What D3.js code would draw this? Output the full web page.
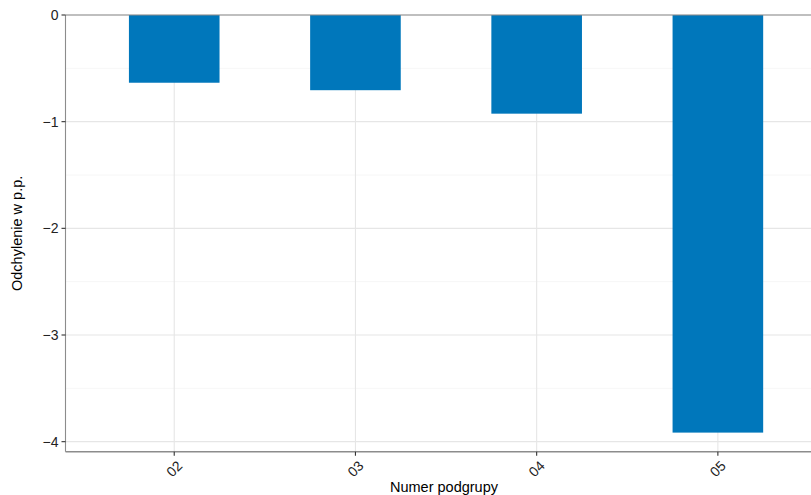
<!DOCTYPE html>
<html><head><meta charset="utf-8">
<script src="https://cdn.jsdelivr.net/npm/d3@7"></script>
<style>body{margin:0;background:#fff;}svg{display:block;font-family:"Liberation Sans",Arial,sans-serif;}</style>
</head><body>
<svg id="c" width="811" height="495"></svg>
<script>
const categories = ["02","03","04","05"];
const values = [-0.635, -0.705, -0.925, -3.915];
const yTicks = [0,-1,-2,-3,-4];
const yMinor = [-0.5,-1.5,-2.5,-3.5];
const xTitle = "Numer podgrupy";
const yTitle = "Odchylenie w p.p.";

(function(){
const svg = d3.select("#c");
const pL = 65.5, pR = 826.6, pT = 15, pB = 451.7;
const x = d3.scalePoint().domain(categories).range([pL, pR]).padding(0.6);
const bw = x.step()*0.5;
const y = d3.scaleLinear().domain([-4.094, 0]).range([pB, pT]);

const g = svg.append("g");
g.selectAll(".mg").data(yMinor).join("line")
 .attr("x1",pL).attr("x2",811).attr("y1",d=>y(d)).attr("y2",d=>y(d))
 .attr("stroke","#f4f4f4").attr("stroke-width",0.8);
g.selectAll(".yg").data(yTicks).join("line")
 .attr("x1",pL).attr("x2",811).attr("y1",d=>y(d)).attr("y2",d=>y(d))
 .attr("stroke","#e6e6e6").attr("stroke-width",1.1);
g.selectAll(".xg").data(categories).join("line")
 .attr("x1",d=>x(d)).attr("x2",d=>x(d)).attr("y1",pT).attr("y2",pB)
 .attr("stroke","#e6e6e6").attr("stroke-width",1.1);
g.selectAll(".bar").data(categories).join("rect")
 .attr("x",d=>x(d)-bw/2).attr("width",bw)
 .attr("y",y(0)).attr("height",(d,i)=>y(values[i])-y(0))
 .attr("fill","#0077bb");
g.append("line").attr("x1",pL).attr("x2",811).attr("y1",y(0)).attr("y2",y(0))
 .attr("stroke","#8c8c8c").attr("stroke-width",1.1);
g.append("line").attr("x1",pL).attr("x2",pL).attr("y1",pT).attr("y2",pB)
 .attr("stroke","#8c8c8c").attr("stroke-width",1.1);
g.append("line").attr("x1",pL).attr("x2",811).attr("y1",pB).attr("y2",pB)
 .attr("stroke","#8c8c8c").attr("stroke-width",1.4);
g.selectAll(".yt").data(yTicks).join("line")
 .attr("x1",pL-4).attr("x2",pL).attr("y1",d=>y(d)).attr("y2",d=>y(d))
 .attr("stroke","#333").attr("stroke-width",1.1);
g.selectAll(".yl").data(yTicks).join("text")
 .attr("x",pL-7).attr("y",d=>y(d)).attr("dy","0.36em")
 .attr("text-anchor","end").attr("font-size",14).attr("fill","#222")
 .text(d=>d===0?"0":"\u2212"+Math.abs(d));
g.selectAll(".xt").data(categories).join("line")
 .attr("x1",d=>x(d)).attr("x2",d=>x(d)).attr("y1",pB).attr("y2",pB+4)
 .attr("stroke","#333").attr("stroke-width",1.1);
g.selectAll(".xl").data(categories).join("text")
 .attr("transform",d=>`translate(${x(d)},${pB+17}) rotate(-45)`)
 .attr("text-anchor","middle").attr("dy","0.35em")
 .attr("font-size",14).attr("fill","#222").text(d=>d);
svg.append("text").attr("x",444).attr("y",492)
 .attr("text-anchor","middle").attr("font-size",14.5).attr("fill","#000").text(xTitle);
svg.append("text").attr("transform",`translate(22,${(pT+pB)/2}) rotate(-90)`)
 .attr("text-anchor","middle").attr("font-size",14.5).attr("fill","#000").text(yTitle);
})();
</script>
</body></html>
